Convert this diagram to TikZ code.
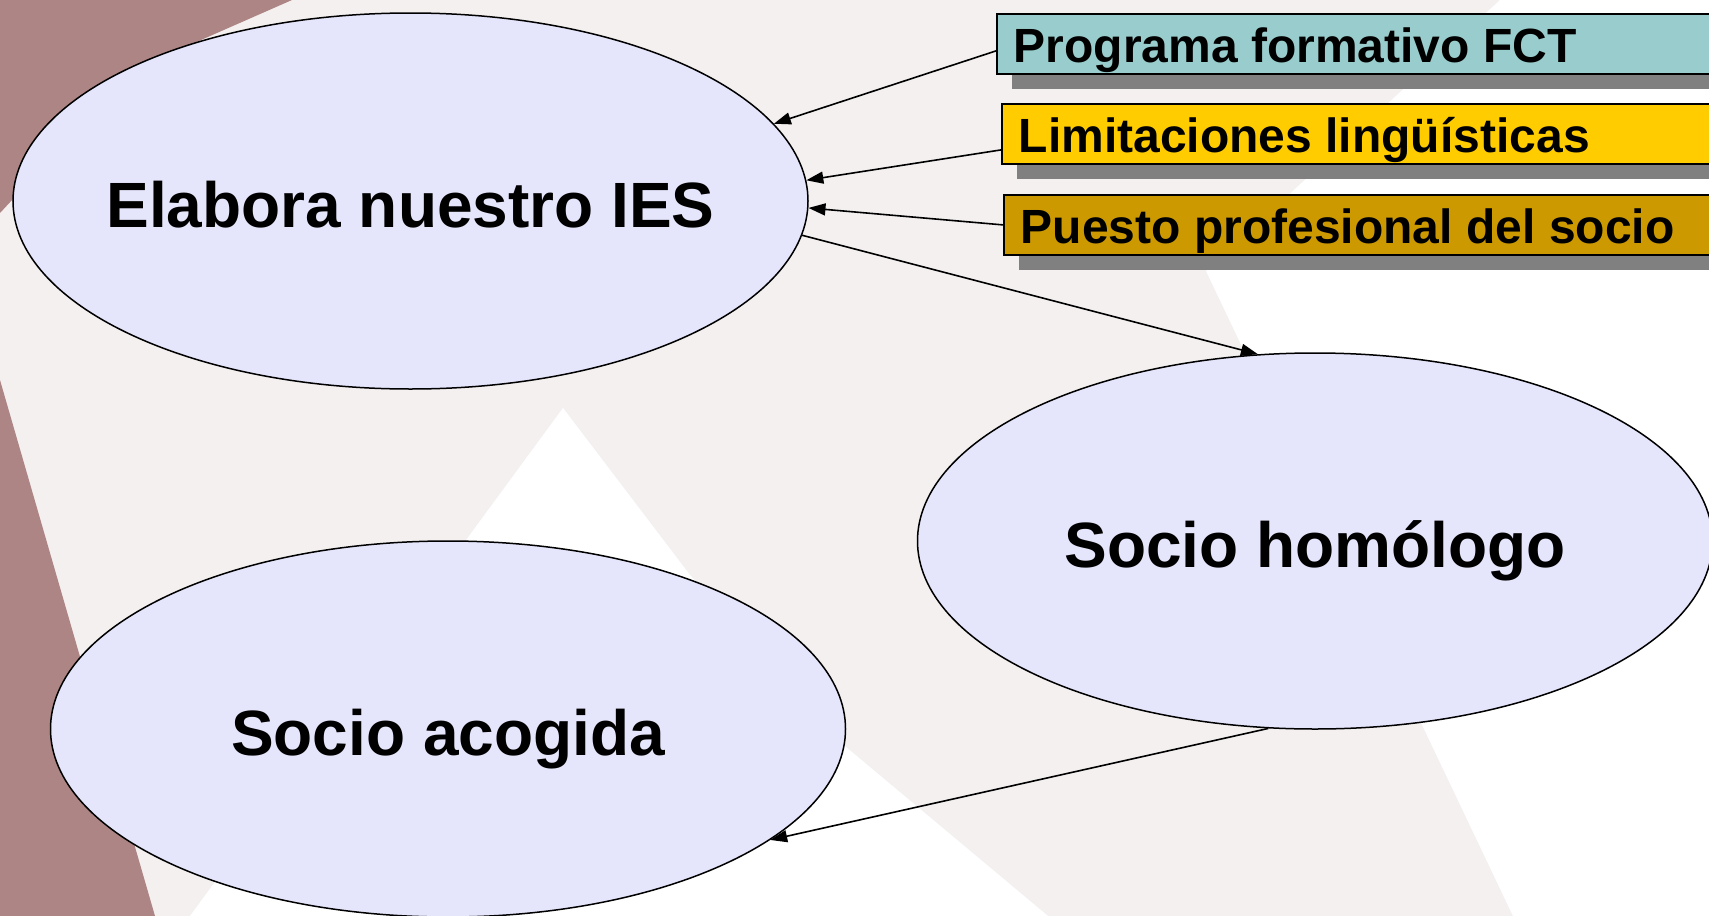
\documentclass[tikz,border=0pt]{standalone}
\usepackage{fontspec}
\setmainfont{Liberation Sans}
\usetikzlibrary{shapes.geometric,arrows.meta,shadows}
\definecolor{bgpink}{HTML}{F4F0F0}
\definecolor{brownbg}{HTML}{AE8585}
\definecolor{ellfill}{HTML}{E5E5FB}
\definecolor{tealbox}{HTML}{99CCCC}
\definecolor{goldbox}{HTML}{FFCC00}
\definecolor{ochrebox}{HTML}{CC9900}
\definecolor{shadowgray}{HTML}{808080}
\tikzset{
  bubble/.style={ellipse, draw=black, line width=1.5pt, fill=ellfill,
    minimum width=795pt, minimum height=376pt, inner sep=0pt,
    font=\fontsize{64pt}{70pt}\selectfont\bfseries, text height=53pt, text depth=0pt},
  tag/.style={rectangle, draw=black, line width=1.8pt, anchor=north west,
    minimum height=60pt, inner xsep=17pt, inner ysep=0pt,
    text height=44pt, text depth=6pt,
    font=\fontsize{48pt}{53pt}\selectfont\bfseries,
    drop shadow={shadow xshift=15pt, shadow yshift=-15pt, fill=shadowgray, opacity=1}},
  link/.style={line width=1.6pt, -{Stealth[inset=0pt,length=17pt,width=12pt]}},
}
\begin{document}
\begin{tikzpicture}[x=1pt,y=-1pt]
\useasboundingbox (0,0) rectangle (1709,916);
\clip (0,0) rectangle (1709,916);
% background
\fill[bgpink] (0,0) rectangle (1709,916);
\fill[white] (1500,0) -- (1206,271) -- (1513,916) -- (1709,916) -- (1709,0) -- cycle;
\fill[white] (563,408) -- (690,575) -- (846,747) -- (1048,916) -- (190,916) -- cycle;
\fill[brownbg] (0,0) -- (292,0) -- (110,80) -- (13,199) -- (0,213) -- cycle;
\fill[brownbg] (0,380) -- (155,916) -- (0,916) -- cycle;
% ellipses
\node[bubble] (e1) at (410.5,201) {\makebox[0pt]{Elabora nuestro IES}};
\node[bubble] (e2) at (1315,541) {\makebox[0pt]{Socio homólogo}};
\node[bubble] (e3) at (448,729) {\makebox[0pt]{Socio acogida}};
% boxes
\node[tag, fill=tealbox] (b1) at (996,13) {\makebox[760pt][l]{Programa formativo FCT}};
\node[tag, fill=goldbox] (b2) at (1001,103) {\makebox[760pt][l]{Limitaciones lingüísticas}};
\node[tag, fill=ochrebox] (b3) at (1003,194) {\makebox[760pt][l]{Puesto profesional del socio}};
% connectors
\draw[link] ([yshift=-7pt]b1.west) -- (e1.12);
\draw[link] ([yshift=-16pt]b2.west) -- (e1.3.3);
\draw[link] (b3.west) -- (e1.-1.2);
\draw[link] (e1.-5.5) -- (e2.107.5);
\draw[link] (e2.256) -- (e3.-19.8);
\end{tikzpicture}
\end{document}
